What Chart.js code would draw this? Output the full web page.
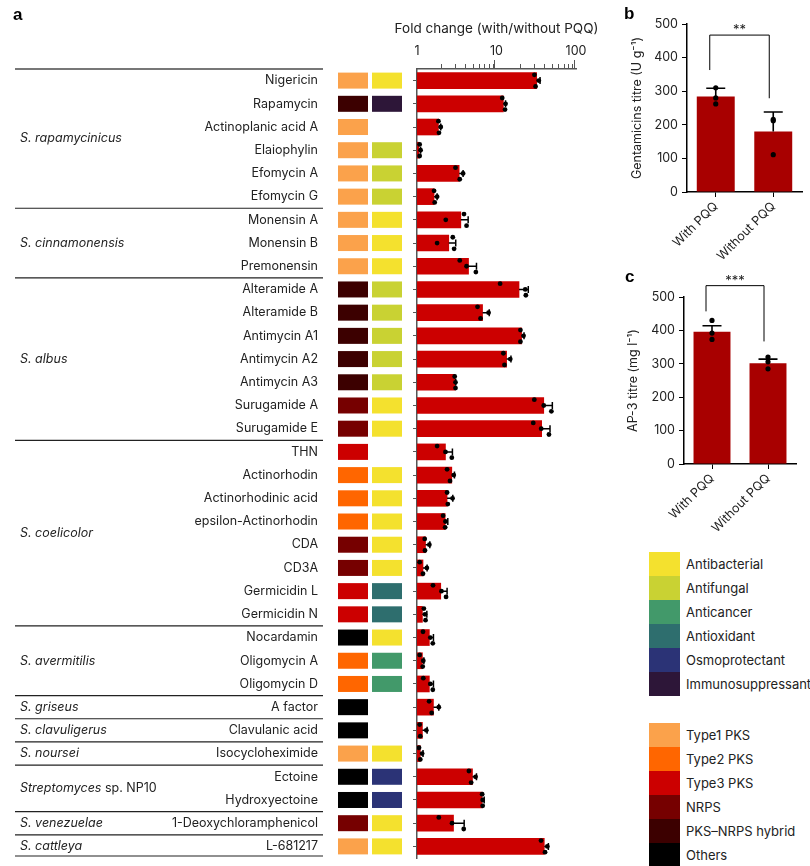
<!DOCTYPE html>
<html>
<head>
<meta charset="utf-8">
<script src="https://cdn.jsdelivr.net/npm/chart.js@4.4.1/dist/chart.umd.min.js"></script>
<style>
  body { margin: 0; background: #fff; }
  #page { position: relative; width: 810px; height: 866px; overflow: hidden; font-family: Inter, 'Open Sans', sans-serif; color: #222; }
  canvas { position: absolute; }
  .panel { position: absolute; font: bold 17px 'Liberation Sans', Arial, sans-serif; color: #000; }
  .legend { position: absolute; left: 649px; }
  .legend .row { height: 24px; display: flex; align-items: center; }
  .legend .sw { width: 31px; height: 24px; flex: none; }
  .legend span { margin-left: 6px; font-size: 13px; white-space: nowrap; }
</style>
</head>
<body>
<div id="page">
  <canvas id="chartA" width="610" height="866" style="left:0;top:0"></canvas>
  <canvas id="chartB" width="200" height="265" style="left:610px;top:0"></canvas>
  <canvas id="chartC" width="200" height="280" style="left:610px;top:265px"></canvas>
  <div class="panel" style="left:13px;top:5px">a</div>
  <div class="panel" style="left:624px;top:4px">b</div>
  <div class="panel" style="left:625px;top:267px">c</div>
  <div class="legend" id="legendAct" style="top:552px"></div>
  <div class="legend" id="legendType" style="top:723px"></div>
</div>
<script>
// ---- panel a data ----
const compounds = ['Nigericin', 'Rapamycin', 'Actinoplanic acid A', 'Elaiophylin', 'Efomycin A', 'Efomycin G',
  'Monensin A', 'Monensin B', 'Premonensin',
  'Alteramide A', 'Alteramide B', 'Antimycin A1', 'Antimycin A2', 'Antimycin A3', 'Surugamide A', 'Surugamide E',
  'THN', 'Actinorhodin', 'Actinorhodinic acid', 'epsilon-Actinorhodin', 'CDA', 'CD3A', 'Germicidin L', 'Germicidin N',
  'Nocardamin', 'Oligomycin A', 'Oligomycin D', 'A factor', 'Clavulanic acid', 'Isocycloheximide',
  'Ectoine', 'Hydroxyectoine', '1-Deoxychloramphenicol', 'L-681217'];
const foldChange = [32, 12.2, 1.86, 1.06, 3.39, 1.64, 3.56, 2.51, 4.45, 19.2, 6.68, 20.7, 13.4, 3.01, 39.3, 37,
  2.28, 2.74, 2.39, 2.26, 1.28, 1.19, 1.99, 1.17, 1.43, 1.17, 1.43, 1.61, 1.17, 1.1, 4.99, 6.6, 2.88, 39.9];
const foldErrHigh = [35.3, 13.0, 1.99, 1.11, 3.8, 1.79, 4.4, 3.07, 5.6, 25.1, 8.1, 22.2, 15.2, 3.07, 50.4, 47.1,
  2.79, 2.96, 2.82, 2.44, 1.45, 1.34, 2.39, 1.33, 1.61, 1.22, 1.61, 1.88, 1.34, 1.19, 5.6, 7.0, 3.92, 44.9];
const rep1 = [30, 11.8, 1.86, 1.08, 3.05, 1.64, 3.9, 2.82, 3.45, 11.1, 5.77, 20, 12.2, 2.98, 29.9, 29,
  1.79, 2.39, 2.39, 2.13, 1.25, 1.08, 1.59, 1.22, 1.19, 1.08, 1.2, 1.42, 1.08, 1.06, 4.5, 6.6, 1.88, 36.3];
const rep2 = [34, 13.0, 1.99, 1.11, 3.8, 1.79, 2.3, 1.79, 4.2, 23, 7.95, 21.9, 14.9, 3.05, 39.3, 36.5,
  2.28, 2.9, 2.8, 2.28, 1.43, 1.33, 2.03, 1.26, 1.47, 1.2, 1.47, 1.88, 1.31, 1.16, 5.45, 6.7, 2.76, 43.6];
const rep3 = [31, 12.8, 1.89, 1.08, 3.45, 1.67, 4.2, 2.93, 5.5, 23.4, 6.3, 20, 12.6, 3.05, 49, 45.7,
  2.74, 2.6, 2.44, 2.26, 1.26, 1.19, 2.32, 1.28, 1.58, 1.18, 1.58, 1.53, 1.1, 1.1, 4.8, 6.7, 3.87, 40.8];
const foldTicks = [1, 10, 100];
const foldTitle = 'Fold change (with/without PQQ)';

const speciesNames = ['S. rapamycinicus', 'S. cinnamonensis', 'S. albus', 'S. coelicolor', 'S. avermitilis',
  'S. griseus', 'S. clavuligerus', 'S. noursei', 'Streptomyces sp. NP10', 'S. venezuelae', 'S. cattleya'];
const speciesCounts = [6, 3, 7, 8, 3, 1, 1, 1, 2, 1, 1];

const typeNames = ['Type1 PKS', 'Type2 PKS', 'Type3 PKS', 'NRPS', 'PKS\u2013NRPS hybrid', 'Others'];
const typeColors = ['#FBA24B', '#FF6600', '#CC0000', '#760000', '#3C0000', '#000000'];
const actNames = ['Antibacterial', 'Antifungal', 'Anticancer', 'Antioxidant', 'Osmoprotectant', 'Immunosuppressant'];
const actColors = ['#F4E12E', '#C9D233', '#42996A', '#2E6E6E', '#2B3376', '#2D1638'];
// index into typeNames / actNames for each compound (-1 = none)
const bgcType = [0, 4, 0, 0, 0, 0, 0, 0, 0, 4, 4, 4, 4, 4, 3, 3, 2, 1, 1, 1, 3, 3, 2, 2, 5, 1, 1, 5, 5, 0, 5, 5, 3, 0];
const activity = [0, 5, -1, 1, 1, 1, 0, 0, 0, 1, 1, 1, 1, 1, 0, 0, -1, 0, 0, 0, 0, 0, 3, 3, 0, 2, 2, -1, -1, 0, 4, 4, 0, 0];

// ---- panels b, c data ----
const conditions = ['With PQQ', 'Without PQQ'];
const gentaMean = [284, 180];
const gentaErrHigh = [309, 238];
const gentaWith = [310, 280, 262];
const gentaWithout = [212, 216, 111];
const ap3Mean = [396, 302];
const ap3ErrHigh = [414, 314];
const ap3With = [430, 392, 373];
const ap3Without = [320, 306, 285];
const titreTicks = [0, 100, 200, 300, 400, 500];

const FONT = "Inter, 'Open Sans', sans-serif";
const INK = '#222';

// dots of panel a: three replicates, spread a little around the row
const repOffsets = [-0.25, 0, 0.25];
const dotsA = [];
[rep1, rep2, rep3].forEach((rep, r) => {
  rep.forEach((v, i) => dotsA.push({ x: v, y: i + repOffsets[r] }));
});

const panelAPlugin = {
  id: 'panelA',
  afterDatasetsDraw(chart) {
    const { ctx, chartArea } = chart;
    const x = chart.scales.x, y = chart.scales.y;
    ctx.save();
    // error bars (upper side only)
    ctx.strokeStyle = '#000';
    ctx.lineWidth = 1.5;
    foldChange.forEach((v, i) => {
      const py = y.getPixelForValue(i);
      const x0 = x.getPixelForValue(v), x1 = x.getPixelForValue(foldErrHigh[i]);
      ctx.beginPath();
      ctx.moveTo(x0, py); ctx.lineTo(x1, py);
      ctx.moveTo(x1, py - 3.5); ctx.lineTo(x1, py + 3.5);
      ctx.stroke();
    });
    // minor ticks of the log axis
    ctx.strokeStyle = '#555';
    ctx.lineWidth = 1;
    [1, 10].forEach(dec => {
      for (let k = 2; k <= 9; k++) {
        const px = Math.round(x.getPixelForValue(k * dec)) + 0.5;
        ctx.beginPath();
        ctx.moveTo(px, chartArea.top - 5); ctx.lineTo(px, chartArea.top);
        ctx.stroke();
      }
    });
    // axis title, drawn here so it is not squeezed to the axis width
    ctx.fillStyle = INK;
    ctx.font = '13.5px ' + FONT;
    ctx.textAlign = 'center';
    ctx.textBaseline = 'middle';
    ctx.fillText(foldTitle, (chartArea.left + chartArea.right) / 2, 29);
    ctx.restore();
  },
  afterDraw(chart) {
    const { ctx } = chart;
    const y = chart.scales.y;
    ctx.save();
    // colour swatches for cluster type and activity
    compounds.forEach((c, i) => {
      const py = y.getPixelForValue(i);
      ctx.fillStyle = typeColors[bgcType[i]];
      ctx.fillRect(338, py - 8, 30, 16);
      if (activity[i] >= 0) {
        ctx.fillStyle = actColors[activity[i]];
        ctx.fillRect(372, py - 8, 30, 16);
      }
    });
    // species groups
    let start = 0;
    speciesNames.forEach((name, g) => {
      const end = start + speciesCounts[g] - 1;
      const top = y.getPixelForValue(start - 0.5);
      ctx.strokeStyle = g === 0 ? '#777' : '#222';
      ctx.lineWidth = g === 0 ? 2 : 1.2;
      ctx.beginPath();
      ctx.moveTo(15, top); ctx.lineTo(323, top);
      ctx.stroke();
      const cy = (y.getPixelForValue(start) + y.getPixelForValue(end)) / 2;
      ctx.fillStyle = INK;
      ctx.textBaseline = 'middle';
      ctx.textAlign = 'left';
      if (name.startsWith('Streptomyces')) {
        ctx.font = 'italic 12.5px ' + FONT;
        ctx.fillText('Streptomyces', 20, cy);
        const w = ctx.measureText('Streptomyces ').width;
        ctx.font = '12.5px ' + FONT;
        ctx.fillText('sp. NP10', 20 + w, cy);
      } else {
        ctx.font = 'italic 12.5px ' + FONT;
        ctx.fillText(name, 20, cy);
      }
      start = end + 1;
    });
    const bottom = y.getPixelForValue(start - 0.5) - 2;
    ctx.strokeStyle = '#222';
    ctx.lineWidth = 1.2;
    ctx.beginPath();
    ctx.moveTo(15, bottom); ctx.lineTo(323, bottom);
    ctx.stroke();
    ctx.restore();
  }
};

new Chart(document.getElementById('chartA'), {
  type: 'bar',
  data: {
    labels: compounds,
    datasets: [
      {
        type: 'bar', indexAxis: 'y', data: foldChange,
        backgroundColor: '#CC0000', barThickness: 16,
        xAxisID: 'x', yAxisID: 'y', order: 2
      },
      {
        type: 'scatter', data: dotsA, xAxisID: 'x', yAxisID: 'yd',
        pointRadius: 2.4, pointBackgroundColor: '#000', pointBorderWidth: 0, order: 1
      }
    ]
  },
  options: {
    responsive: false,
    animation: false,
    layout: { autoPadding: false, padding: { left: 0, right: 34, top: 0, bottom: 8 } },
    plugins: { legend: { display: false }, tooltip: { enabled: false } },
    scales: {
      x: {
        type: 'logarithmic', position: 'top', min: 1, max: 100,
        afterFit: s => { s.height = 69; },
        grid: {
          drawOnChartArea: false, tickLength: 9, tickWidth: 1,
          tickColor: c => foldTicks.includes(c.tick && c.tick.value) ? '#555' : 'rgba(0,0,0,0)'
        },
        border: { display: true, color: '#555', width: 1.5 },
        ticks: {
          autoSkip: false, maxRotation: 0, padding: 1, color: INK,
          font: { family: FONT, size: 12.5 },
          callback: v => foldTicks.includes(v) ? String(v) : ''
        }
      },
      y: {
        type: 'category', position: 'left', offset: true,
        afterFit: s => { s.width = 417; s.paddingTop = 0; s.paddingBottom = 0; },
        grid: { offset: false, drawOnChartArea: false, tickLength: 4, color: '#555' },
        border: { display: true, color: '#555', width: 1.5 },
        ticks: { autoSkip: false, padding: 95, color: INK, font: { family: FONT, size: 12.5 } }
      },
      yd: { type: 'linear', display: false, min: -0.5, max: 33.5, reverse: true }
    }
  },
  plugins: [panelAPlugin]
});

// ---- panels b and c ----
function titrePlugin(errHigh, bracket, stars) {
  return {
    id: 'titre',
    afterDatasetsDraw(chart) {
      const { ctx } = chart;
      const x = chart.scales.x, y = chart.scales.y;
      ctx.save();
      ctx.strokeStyle = '#000';
      ctx.lineWidth = 1.6;
      chart.data.datasets[0].data.forEach((v, i) => {
        const px = x.getPixelForValue(i);
        const y0 = y.getPixelForValue(v), y1 = y.getPixelForValue(errHigh[i]);
        ctx.beginPath();
        ctx.moveTo(px, y0); ctx.lineTo(px, y1);
        ctx.moveTo(px - 9.5, y1); ctx.lineTo(px + 9.5, y1);
        ctx.stroke();
      });
      // significance bracket
      const xl = x.getPixelForValue(0) - 6, xr = x.getPixelForValue(1) - 4;
      const yt = y.getPixelForValue(bracket[0]);
      ctx.lineWidth = 1;
      ctx.beginPath();
      ctx.moveTo(xl, y.getPixelForValue(bracket[1]));
      ctx.lineTo(xl, yt); ctx.lineTo(xr, yt);
      ctx.lineTo(xr, y.getPixelForValue(bracket[2]));
      ctx.stroke();
      ctx.fillStyle = INK;
      ctx.font = '13px ' + FONT;
      ctx.textAlign = 'center';
      ctx.textBaseline = 'alphabetic';
      ctx.fillText(stars, (xl + xr) / 2, yt - 1);
      ctx.restore();
    }
  };
}

function titreChart(id, means, withReps, withoutReps, errHigh, bracket, stars, titleText, box) {
  const dots = withReps.map(v => ({ x: conditions[0], y: v }))
    .concat(withoutReps.map(v => ({ x: conditions[1], y: v })));
  new Chart(document.getElementById(id), {
    type: 'bar',
    data: {
      labels: conditions,
      datasets: [
        { type: 'bar', data: means, backgroundColor: '#A80000', barPercentage: 0.66, categoryPercentage: 1, order: 2 },
        { type: 'scatter', data: dots, pointRadius: 2.6, pointBackgroundColor: '#000', pointBorderWidth: 0, order: 1 }
      ]
    },
    options: {
      responsive: false,
      animation: false,
      layout: { autoPadding: false, padding: { left: 0, right: box.right, top: box.top, bottom: 0 } },
      plugins: { legend: { display: false }, tooltip: { enabled: false } },
      scales: {
        x: {
          type: 'category', offset: true,
          afterFit: s => { s.height = box.xh; },
          grid: { offset: false, drawOnChartArea: false, tickLength: 5, color: '#000' },
          border: { display: true, color: '#000', width: 1.5 },
          ticks: { maxRotation: 45, minRotation: 45, padding: 2, color: INK, font: { family: FONT, size: 12.5 } }
        },
        y: {
          type: 'linear', min: 0, max: 500,
          afterFit: s => { s.width = box.yw; },
          afterBuildTicks: s => { s.ticks = titreTicks.map(v => ({ value: v })); },
          grid: { drawOnChartArea: false, tickLength: 5, color: '#000' },
          border: { display: true, color: '#000', width: 1.5 },
          ticks: { padding: 4, color: INK, font: { family: FONT, size: 12.5 } },
          title: {
            display: true, text: titleText, color: INK,
            font: { family: FONT, size: 12.5 }, padding: { top: box.tp, bottom: 0 }
          }
        }
      }
    },
    plugins: [titrePlugin(errHigh, bracket, stars)]
  });
}

titreChart('chartB', gentaMean, gentaWith, gentaWithout, gentaErrHigh, [467, 363, 279], '**',
  'Gentamicins titre (U g\u207B\u00B9)', { right: 8, top: 24, xh: 73, yw: 77, tp: 20 });
titreChart('chartC', ap3Mean, ap3With, ap3Without, ap3ErrHigh, [534, 457, 367], '***',
  'AP-3 titre (mg l\u207B\u00B9)', { right: 14, top: 32, xh: 81, yw: 74, tp: 16 });

// ---- legends ----
function buildLegend(elId, names, colors) {
  const el = document.getElementById(elId);
  names.forEach((n, i) => {
    const row = document.createElement('div');
    row.className = 'row';
    row.innerHTML = '<div class="sw" style="background:' + colors[i] + '"></div><span>' + n + '</span>';
    el.appendChild(row);
  });
}
buildLegend('legendAct', actNames, actColors);
buildLegend('legendType', typeNames, typeColors);
</script>
</body>
</html>
